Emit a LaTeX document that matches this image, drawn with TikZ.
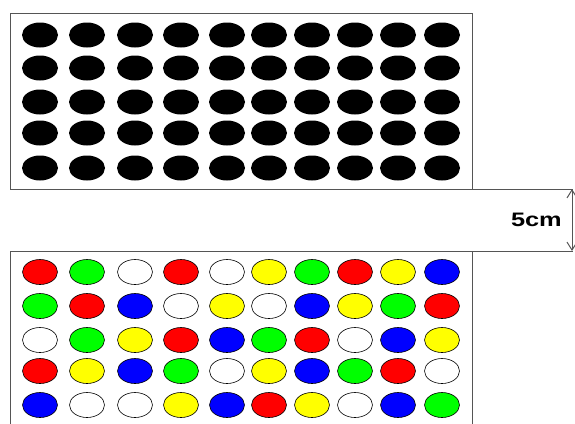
\documentclass[tikz,border=0pt]{standalone}
\usepackage{fontspec}
\newfontfamily\dimfont{Liberation Sans}
\usetikzlibrary{arrows.meta, positioning, shapes.geometric}
\definecolor{boardLine}{HTML}{555555}
\definecolor{pegR}{HTML}{FF0000}
\definecolor{pegG}{HTML}{00FF00}
\definecolor{pegB}{HTML}{0000FF}
\definecolor{pegY}{HTML}{FFFF00}
\definecolor{pegW}{HTML}{FFFFFF}

\begin{document}
\begin{tikzpicture}[
  x=1pt, y=-1pt,
  board/.style={draw=boardLine, line width=1pt},
  hole/.style={ellipse, fill=black, minimum width=36pt, minimum height=25pt, inner sep=0pt},
  peg/.style={ellipse, draw=black, line width=0.6pt, minimum width=35pt, minimum height=25pt, inner sep=0pt},
  dim/.style={draw=boardLine, line width=1pt,
              {Straight Barb[length=8pt,width=10pt]}-{Straight Barb[length=8pt,width=10pt]}}
]
\useasboundingbox (0,0) rectangle (575,423);
\clip (0,0) rectangle (575,423);

% boards
\draw[board] (10,189) -- (10,13) -- (472,13) -- (472,189);
\draw[board] (10,189) -- (573,189);
\draw[board] (10,430) -- (10,251) -- (573,251);
\draw[board] (472,251) -- (472,430);

% top board: empty holes
\foreach \ry [count=\r] in {35,68,102,133,168}{
  \foreach \cx [count=\c] in {40,87,135,181,227,269,312,355,398,442}{
    \node[hole] (hole-\r-\c) at (\cx,\ry) {};
  }
}

% bottom board: coloured pegs
\foreach \r/\ry/\row in {1/272/{R,G,W,R,W,Y,G,R,Y,B},
                         2/306/{G,R,B,W,Y,W,B,Y,G,R},
                         3/340/{W,G,Y,R,B,G,R,W,B,Y},
                         4/371/{R,Y,B,G,W,Y,B,G,R,W},
                         5/405/{B,W,W,Y,B,R,Y,W,B,G}}{
  \foreach \col [count=\c] in \row{
    \pgfmathsetmacro{\cx}{{40,87,135,181,227,269,312,355,398,442}[\c-1]}
    \node[peg, fill=peg\col] (peg-\r-\c) at (\cx,\ry) {};
  }
}

% dimension
\coordinate (dimtop) at (572,189);
\coordinate (dimbot) at (572,251);
\draw[dim] (dimtop) -- (dimbot);
\node[font=\dimfont\bfseries\fontsize{19.5}{20}\selectfont, xscale=1.3, anchor=east, inner sep=0pt]
  (dimlabel) at (562,220) {5cm};

\end{tikzpicture}
\end{document}
